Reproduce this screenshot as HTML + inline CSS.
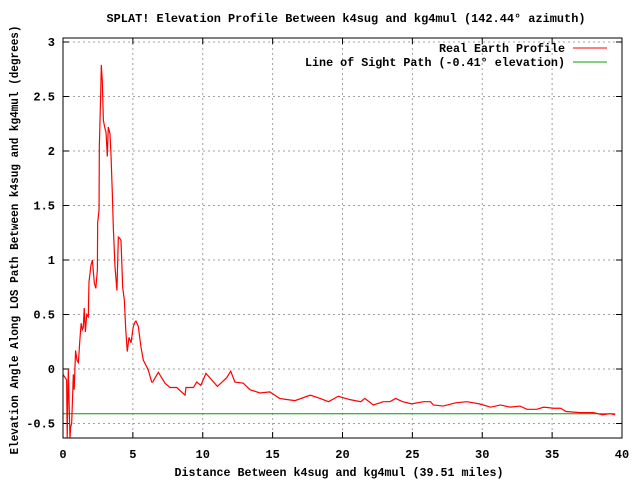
<!DOCTYPE html>
<html><head><meta charset="utf-8"><style>
html,body{margin:0;padding:0;background:#fff}
svg{display:block}
text{font-family:"Liberation Mono",monospace;font-size:12px;font-weight:bold;fill:#000}
</style></head><body>
<svg id="chart" width="640" height="480" viewBox="0 0 640 480">
<rect x="0" y="0" width="640" height="480" fill="#fff"/>
<g id="grid"></g>
<g id="axes"></g>
<g id="series"></g>
<rect x="63" y="38" width="559" height="400" fill="none" stroke="#000" stroke-width="1"/>
<text x="346" y="22" text-anchor="middle" textLength="479" lengthAdjust="spacingAndGlyphs">SPLAT! Elevation Profile Between k4sug and kg4mul (142.44° azimuth)</text>
<text x="339" y="476" text-anchor="middle" textLength="329" lengthAdjust="spacingAndGlyphs">Distance Between k4sug and kg4mul (39.51 miles)</text>
<text transform="translate(18,240) rotate(-90)" text-anchor="middle" textLength="429" lengthAdjust="spacingAndGlyphs">Elevation Angle Along LOS Path Between k4sug and kg4mul (degrees)</text>
<g>
<text x="565" y="52" text-anchor="end" textLength="126" lengthAdjust="spacingAndGlyphs">Real Earth Profile</text>
<line x1="573" y1="48" x2="607" y2="48" stroke="#ff0000"/>
<text x="565" y="66" text-anchor="end" textLength="260" lengthAdjust="spacingAndGlyphs">Line of Sight Path (-0.41° elevation)</text>
<line x1="573" y1="62" x2="607" y2="62" stroke="#00a000"/>
</g>
</svg>
<script>
const xTicks=[0,5,10,15,20,25,30,35,40];
const yTicks=[-0.5,0,0.5,1,1.5,2,2.5,3];
const yTickLabels=["-0.5","0","0.5","1","1.5","2","2.5","3"];
const profileX=[0,0.26,0.3,0.38,0.5,0.55,0.62,0.74,0.8,0.9,1.0,1.1,1.22,1.3,1.38,1.45,1.52,1.6,1.7,1.81,1.86,2.0,2.1,2.24,2.35,2.46,2.48,2.58,2.6,2.7,2.74,2.81,2.89,2.98,3.08,3.17,3.24,3.36,3.43,3.53,3.6,3.72,3.86,3.96,4.05,4.15,4.27,4.39,4.49,4.6,4.72,4.87,5.03,5.15,5.22,5.39,5.58,5.75,5.99,6.1,6.35,6.42,6.82,7.3,7.66,8.14,8.73,8.8,9.33,9.57,9.86,10.23,10.64,11.05,11.71,12.0,12.3,12.9,13.38,14.1,14.8,15.5,16.0,16.6,17.7,18.4,19.0,19.7,20.5,21.3,21.6,22.2,22.7,22.9,23.4,23.8,24.3,24.95,25.8,26.3,26.5,27.2,28.1,28.9,29.8,30.6,31.3,32.0,32.7,33.2,33.9,34.4,35.1,35.6,36.0,37.0,37.95,38.6,39.15,39.51];
const profileY=[-0.05,-0.1,-0.64,0,-0.64,-0.53,-0.5,-0.05,-0.19,0.17,0.08,0.06,0.29,0.42,0.36,0.38,0.56,0.34,0.5,0.48,0.8,0.95,1.0,0.79,0.74,0.91,1.34,1.46,2.04,2.54,2.79,2.65,2.28,2.22,2.17,1.95,2.22,2.16,1.98,1.61,1.3,0.94,0.72,1.21,1.2,1.18,0.75,0.63,0.36,0.16,0.29,0.24,0.39,0.43,0.44,0.39,0.2,0.08,0.02,-0.01,-0.12,-0.12,-0.03,-0.13,-0.17,-0.17,-0.24,-0.17,-0.17,-0.12,-0.15,-0.04,-0.1,-0.16,-0.08,-0.02,-0.12,-0.13,-0.19,-0.22,-0.21,-0.27,-0.28,-0.29,-0.24,-0.27,-0.3,-0.25,-0.28,-0.3,-0.27,-0.33,-0.31,-0.3,-0.3,-0.27,-0.3,-0.32,-0.3,-0.3,-0.33,-0.34,-0.31,-0.3,-0.32,-0.35,-0.33,-0.35,-0.34,-0.37,-0.37,-0.35,-0.36,-0.36,-0.39,-0.4,-0.4,-0.42,-0.41,-0.42];
const losX=[0,39.51];
const losY=[-0.41,-0.41];
const NS='http://www.w3.org/2000/svg';
function xs(v){return 63+v*559/40;}
function ys(v){return 369-v*109;}
const grid=document.getElementById('grid'),axes=document.getElementById('axes'),series=document.getElementById('series');
function mk(tag,attrs,parent){const e=document.createElementNS(NS,tag);for(const k in attrs)e.setAttribute(k,attrs[k]);parent.appendChild(e);return e;}
xTicks.forEach(t=>{
  const x=xs(t);
  if(t>0&&t<40){const g=mk('line',{x1:x,y1:38,x2:x,y2:438,stroke:'#a0a0a0','stroke-dasharray':'2,3'},grid);
  
  }
  const tk=mk('line',{x1:x,y1:438,x2:x,y2:432,stroke:'#000'},axes);
  
  
  const tk2=mk('line',{x1:x,y1:38,x2:x,y2:44,stroke:'#000'},axes);
  
  
  const lb=mk('text',{x:x,y:458,'text-anchor':'middle'},axes);lb.textContent=String(t);
  
  
});
yTicks.forEach((t,i)=>{
  const y=ys(t);
  const g=mk('line',{x1:63,y1:y,x2:622,y2:y,stroke:'#a0a0a0','stroke-dasharray':'2,3'},grid);
  
  
  const tk=mk('line',{x1:63,y1:y,x2:69,y2:y,stroke:'#000'},axes);
  
  
  const tk2=mk('line',{x1:622,y1:y,x2:616,y2:y,stroke:'#000'},axes);
  
  
  const lb=mk('text',{x:55,y:y+4,'text-anchor':'end'},axes);lb.textContent=yTickLabels[i];
  
  
});
const los=mk('polyline',{points:losX.map((v,i)=>xs(v)+','+ys(losY[i])).join(' '),fill:'none',stroke:'#00a000','stroke-width':1},series);


const pts=profileX.map((v,i)=>xs(v)+','+Math.min(438,ys(profileY[i]))).join(' ');
const prof=mk('polyline',{points:pts,fill:'none',stroke:'#ff0000','stroke-width':1.2,'stroke-linejoin':'miter'},series);


</script>
</body></html>
